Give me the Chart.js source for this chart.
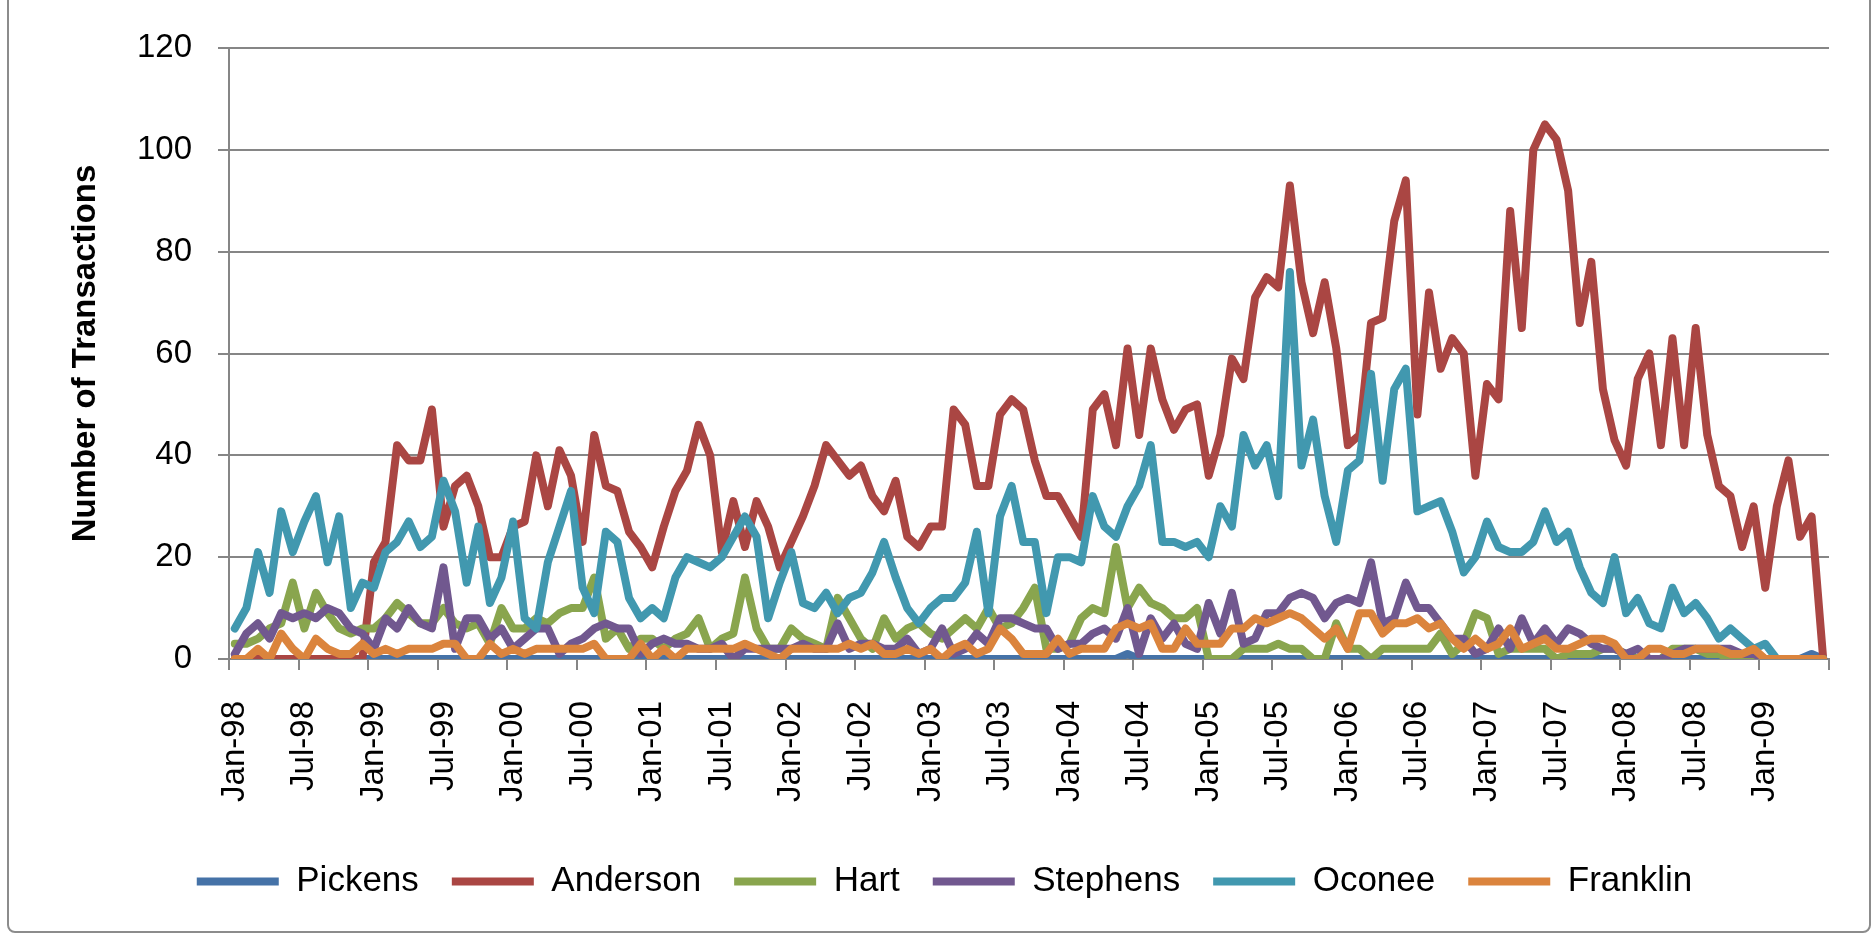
<!DOCTYPE html>
<html>
<head>
<meta charset="utf-8">
<title>Monthly transactions by county</title>
<script src="https://cdn.jsdelivr.net/npm/chart.js@4.4.0/dist/chart.umd.min.js"></script>
<style>
  html, body { margin: 0; padding: 0; background: #fff; }
  #wrap { position: relative; width: 1875px; height: 934px; overflow: hidden; }
  #wrap canvas { position: absolute; left: 0; top: 0; }
  /* rounded frame around the whole chart */
  #frame { position: absolute; left: 7px; top: -10px; width: 1860px; height: 939px;
           border: 2px solid #8c8c8c; border-radius: 8px; pointer-events: none; }
</style>
</head>
<body>
<div id="wrap">
  <canvas id="chart" width="1875" height="934"></canvas>
  <div id="frame"></div>
</div>
<script>
// --- DONNEES ---
// one category per month, Jan-98 .. Jun-09
const monthNames = ['Jan','Feb','Mar','Apr','May','Jun','Jul','Aug','Sep','Oct','Nov','Dec'];
const months = [];
for (let i = 0; i < 138; i++) {
    const yy = (98 + Math.floor(i / 12)) % 100;
    months.push(monthNames[i % 12] + '-' + String(yy).padStart(2, '0'));
}

// labels shown under the axis, one every 6 months
const tickLabels = ['Jan-98','Jul-98','Jan-99','Jul-99','Jan-00','Jul-00','Jan-01','Jul-01',
                    'Jan-02','Jul-02','Jan-03','Jul-03','Jan-04','Jul-04','Jan-05','Jul-05',
                    'Jan-06','Jul-06','Jan-07','Jul-07','Jan-08','Jul-08','Jan-09'];

const pickens = [
    0,0,0,0,0,0,0,0,0,0,0,0,
    0,0,0,0,0,0,0,0,0,0,0,0,
    0,0,0,0,0,0,0,0,0,0,0,0,
    0,0,0,0,0,0,0,0,0,0,0,0,
    0,0,0,0,0,0,0,0,0,0,0,0,
    0,0,0,0,0,0,0,0,0,0,0,0,
    0,0,0,0,0,1,0,0,0,0,0,0,
    0,0,0,0,0,0,0,0,0,0,0,0,
    0,0,0,0,0,0,0,0,0,0,0,0,
    0,0,0,0,0,0,0,0,0,0,0,0,
    0,0,0,0,0,0,0,0,0,0,0,0,
    0,0,0,0,1,0
];

const anderson = [
    0,0,0,0,0,0,0,0,0,0,0,0,
    19,23,42,39,39,49,26,34,36,30,20,20,
    26,27,40,30,41,36,23,44,34,33,25,22,
    18,26,33,37,46,40,21,31,22,31,26,18,
    23,28,34,42,39,36,38,32,29,35,24,22,
    26,26,49,46,34,34,48,51,49,39,32,32,
    28,24,49,52,42,61,44,61,51,45,49,50,
    36,44,59,55,71,75,73,93,74,64,74,61,
    42,44,66,67,86,94,48,72,57,63,60,36,
    54,51,88,65,100,105,102,92,66,78,53,43,
    38,55,60,42,63,42,65,44,34,32,22,30,
    14,30,39,24,28,0
];

const hart = [
    3,3,4,6,7,15,6,13,9,6,5,6,
    6,8,11,9,7,7,10,7,6,7,3,10,
    6,6,8,7,9,10,10,16,4,6,2,4,
    4,2,4,5,8,2,4,5,16,6,2,2,
    6,4,3,2,12,8,4,2,8,4,6,7,
    5,4,6,8,6,10,6,7,10,14,2,2,
    3,8,10,9,22,10,14,11,10,8,8,10,
    0,0,0,2,2,2,3,2,2,0,0,7,
    2,2,0,2,2,2,2,2,5,1,3,9,
    8,1,2,2,2,2,0,1,1,1,2,2,
    1,0,0,0,2,2,2,1,1,0,0,0,
    0,0,0,0,0,0
];

const stephens = [
    1,5,7,4,9,8,9,8,10,9,6,5,
    2,8,6,10,7,6,18,2,8,8,4,6,
    2,4,6,6,1,3,4,6,7,6,6,1,
    3,4,3,3,2,2,3,0,2,2,2,2,
    2,3,2,2,7,2,3,3,2,2,4,1,
    2,6,1,2,5,3,8,8,7,6,6,2,
    3,3,5,6,4,10,1,8,4,7,3,2,
    11,5,13,3,4,9,9,12,13,12,8,11,
    12,11,19,7,8,15,10,10,7,4,4,1,
    2,6,2,8,3,6,3,6,5,3,2,2,
    1,2,0,0,1,2,2,2,2,2,1,1,
    0,0,0,0,0,0
];

const oconee = [
    6,10,21,13,29,21,27,32,19,28,10,15,
    14,21,23,27,22,24,35,29,15,26,11,16,
    27,8,6,19,26,33,14,9,25,23,12,8,
    10,8,16,20,19,18,20,24,28,24,8,15,
    21,11,10,13,9,12,13,17,23,16,10,7,
    10,12,12,15,25,9,28,34,23,23,9,20,
    20,19,32,26,24,30,34,42,23,23,22,23,
    20,30,26,44,38,42,32,76,38,47,32,23,
    37,39,56,35,53,57,29,30,31,25,17,20,
    27,22,21,21,23,29,23,25,18,13,11,20,
    9,12,7,6,14,9,11,8,4,6,4,2,
    3,0,0,0,0,0
];

const franklin = [
    0,0,2,0,5,2,0,4,2,1,1,3,
    1,2,1,2,2,2,3,3,0,0,3,1,
    2,1,2,2,2,2,2,3,0,0,0,3,
    0,2,0,2,2,2,2,2,3,2,1,0,
    2,2,2,2,2,3,2,3,1,1,2,1,
    2,0,2,3,1,2,6,4,1,1,1,4,
    1,2,2,2,6,7,6,7,2,2,6,3,
    3,3,6,6,8,7,8,9,8,6,4,6,
    2,9,9,5,7,7,8,6,7,4,2,4,
    2,3,6,2,3,4,2,2,3,4,4,3,
    0,0,2,2,1,1,2,2,2,1,1,2,
    0,0,0,0,0,0
];

// --- STYLE ---
const FONT = '"Liberation Sans", Arial, sans-serif';
const GRID = '#868686';

// series: name, values, colour (later ones are drawn on top)
const series = [
    ['Pickens',  pickens,  '#4572A7'],
    ['Anderson', anderson, '#AA4643'],
    ['Hart',     hart,     '#89A54E'],
    ['Stephens', stephens, '#71588F'],
    ['Oconee',   oconee,   '#4198AF'],
    ['Franklin', franklin, '#DB843D']
];

const datasets = series.map(([name, values, color], idx) => ({
    label: name,
    data: values,
    borderColor: color,
    backgroundColor: color,
    borderWidth: 8,
    borderJoinStyle: 'round',
    borderCapStyle: 'round',
    pointRadius: 0,
    tension: 0,
    order: series.length - 1 - idx
}));

new Chart(document.getElementById('chart'), {
    type: 'line',
    data: { labels: months, datasets: datasets },
    options: {
        responsive: false,
        animation: false,
        devicePixelRatio: 1,
        layout: { padding: { left: 40, top: 48, right: 26, bottom: 25 } },
        scales: {
            x: {
                offset: true,
                grid: {
                    offset: true,
                    drawOnChartArea: false,
                    tickLength: 11,
                    lineWidth: 2,
                    // tick mark every 6 months + the closing one at the right end
                    color: c => (c.type !== 'tick' || c.index % 6 === 0) ? GRID : 'rgba(0,0,0,0)'
                },
                border: { display: true, color: GRID, width: 2 },
                ticks: {
                    autoSkip: false,
                    minRotation: 90,
                    maxRotation: 90,
                    padding: 31,
                    color: '#000',
                    font: { family: FONT, size: 33 },
                    callback: (v, i) => i % 6 === 0 ? tickLabels[i / 6] : ''
                },
                afterFit: s => {
                    s.height = 172;
                    // plot runs to x=1829 whatever the label overhang is
                    s.paddingLeft = 0;
                    s.paddingRight = 46;
                }
            },
            y: {
                min: 0,
                max: 120,
                ticks: { stepSize: 20, padding: 26, color: '#000', font: { family: FONT, size: 33 } },
                grid: { color: GRID, lineWidth: 2, tickLength: 11 },
                border: { display: true, color: GRID, width: 2 },
                title: {
                    display: true,
                    text: 'Number of Transactions',
                    color: '#000',
                    font: { family: FONT, size: 33, weight: 'bold' },
                    padding: { top: 26, bottom: 0 }
                },
                afterFit: s => { s.width = 189; }
            }
        },
        plugins: {
            legend: {
                position: 'bottom',
                labels: {
                    usePointStyle: true,
                    pointStyle: 'line',
                    pointStyleWidth: 82,
                    padding: 33,
                    color: '#000',
                    font: { family: FONT, size: 35 },
                    sort: (a, b) => a.datasetIndex - b.datasetIndex
                }
            },
            tooltip: { enabled: false }
        }
    }
});
</script>
</body>
</html>
